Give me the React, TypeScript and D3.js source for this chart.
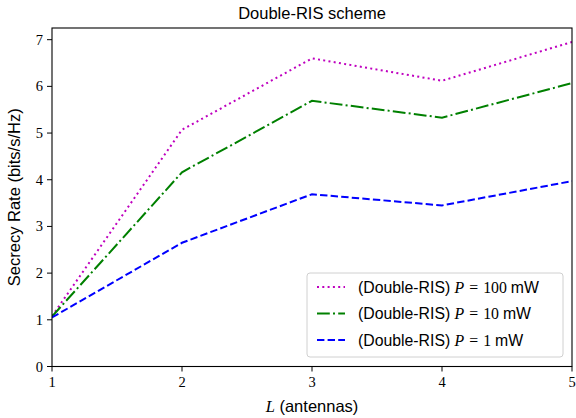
import React from "react";
import * as d3 from "d3";

const antennas = [1, 2, 3, 4, 5];
const rateP100 = [1.08, 5.07, 6.6, 6.12, 6.95];
const rateP10 = [1.07, 4.16, 5.69, 5.33, 6.07];
const rateP1 = [1.05, 2.65, 3.69, 3.45, 3.97];
const yTicks = [0, 1, 2, 3, 4, 5, 6, 7];
const xTicks = [1, 2, 3, 4, 5];
const seriesNames = ["100", "10", "1"];

const W = 576, H = 418;
const M = { left: 52, right: 572, top: 28, bottom: 366.5 };

const SANS = "'Liberation Sans', 'DejaVu Sans', sans-serif";
const SERIF = "'Liberation Serif', 'DejaVu Serif', serif";

export default function App() {
  const x = d3.scaleLinear().domain([1, 5]).range([M.left, M.right]);
  const y = d3.scaleLinear().domain([0, 7.25]).range([M.bottom, M.top]);
  const line = d3.line<number>().x((_, i) => x(antennas[i])).y((d) => y(d));

  const series = [
    { data: rateP100, color: "#bf00bf", dash: "2,3.3", name: seriesNames[0] },
    { data: rateP10, color: "#008000", dash: "12.8,3.2,2,3.2", name: seriesNames[1] },
    { data: rateP1, color: "#0000ff", dash: "7.4,3.2", name: seriesNames[2] },
  ];

  const legX = 307, legY = 273, legW = 256, legH = 84;

  return (
    <svg width={W} height={H} style={{ position: "absolute", left: 0, top: 0, background: "#fff" }}>
      <text x={(M.left + M.right) / 2} y={19} textAnchor="middle" fontFamily={SANS} fontSize={16.5}>
        Double-RIS scheme
      </text>
      <defs>
        <clipPath id="plot">
          <rect x={M.left} y={M.top} width={M.right - M.left} height={M.bottom - M.top} />
        </clipPath>
      </defs>
      <g clipPath="url(#plot)">
        {series.map((s, i) => (
          <path key={i} d={line(s.data) || ""} fill="none" stroke={s.color} strokeWidth={2} strokeDasharray={s.dash} />
        ))}
      </g>
      <rect x={M.left} y={M.top} width={M.right - M.left} height={M.bottom - M.top} fill="none" stroke="#000" strokeWidth={1.1} />
      {yTicks.map((t) => (
        <g key={"y" + t}>
          <line x1={M.left - 5} x2={M.left} y1={y(t)} y2={y(t)} stroke="#000" strokeWidth={1} />
          <text x={M.left - 9} y={y(t) + 5} textAnchor="end" fontFamily={SERIF} fontSize={14.5}>{t}</text>
        </g>
      ))}
      {xTicks.map((t) => (
        <g key={"x" + t}>
          <line x1={x(t)} x2={x(t)} y1={M.bottom} y2={M.bottom + 5} stroke="#000" strokeWidth={1} />
          <text x={x(t)} y={M.bottom + 20} textAnchor="middle" fontFamily={SERIF} fontSize={14.5}>{t}</text>
        </g>
      ))}
      <text transform={`translate(20,${(M.top + M.bottom) / 2}) rotate(-90)`} textAnchor="middle" fontFamily={SANS} fontSize={16.5}>
        Secrecy Rate (bits/s/Hz)
      </text>
      <text x={(M.left + M.right) / 2} y={412} textAnchor="middle" fontSize={16.5}>
        <tspan fontFamily={SERIF} fontStyle="italic">L</tspan>
        <tspan fontFamily={SANS}> (antennas)</tspan>
      </text>
      <rect x={legX} y={legY} width={legW} height={legH} rx={3} fill="#fff" fillOpacity={0.8} stroke="#d0d0d0" strokeWidth={1} />
      {series.map((s, i) => {
        const ly = legY + 14 + i * 26.5;
        return (
          <g key={"l" + i}>
            <line x1={legX + 10} x2={legX + 38} y1={ly} y2={ly} stroke={s.color} strokeWidth={2} strokeDasharray={s.dash} />
            <text x={legX + 51} y={ly + 5.5} fontSize={15.8}>
              <tspan fontFamily={SANS}>(Double-RIS) </tspan>
              <tspan fontFamily={SERIF} fontStyle="italic">P</tspan>
              <tspan fontFamily={SERIF} dx={5}>=</tspan>
              <tspan fontFamily={SERIF} dx={5}>{s.name}</tspan>
              <tspan fontFamily={SANS} dx={4}>mW</tspan>
            </text>
          </g>
        );
      })}
    </svg>
  );
}
